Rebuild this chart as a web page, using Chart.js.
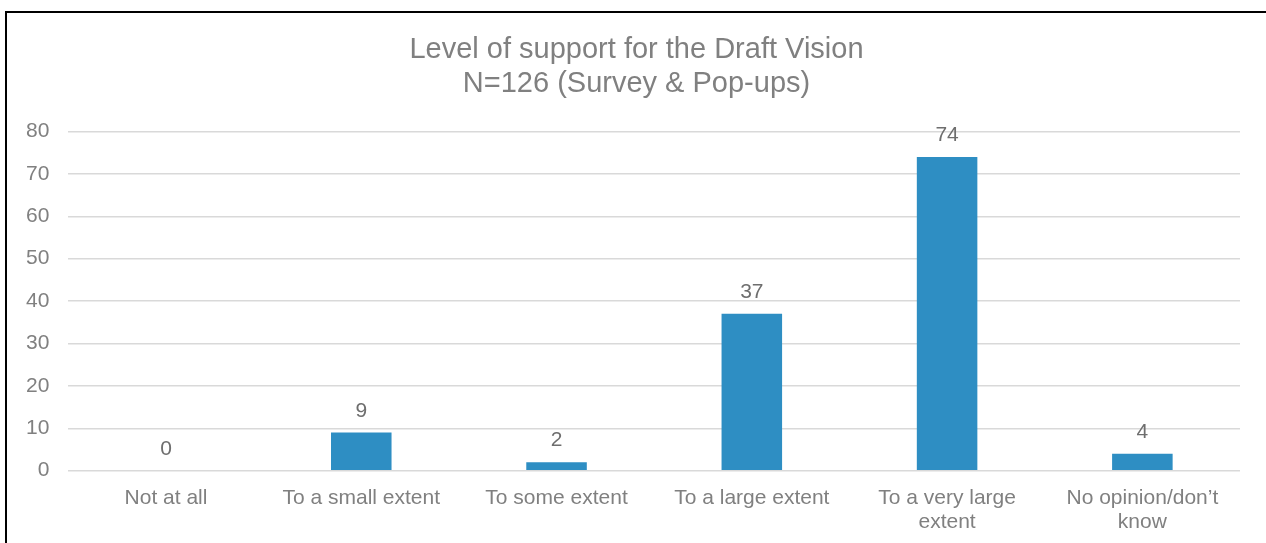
<!DOCTYPE html>
<html>
<head>
<meta charset="utf-8">
<script src="https://cdn.jsdelivr.net/npm/chart.js@4/dist/chart.umd.min.js"></script>
<style>
  html, body { margin: 0; padding: 0; background: #fff; overflow: hidden; }
  #frame {
    position: absolute;
    left: 5px;
    top: 11px;
    width: 1261px;
    height: 545px;
    border-top: 2px solid #000;
    border-left: 2px solid #000;
  }
  #wrap { position: relative; width: 1259px; height: 536px; }
</style>
</head>
<body>
<div id="frame"><div id="wrap"><canvas id="chart"></canvas></div></div>
<script>
const chartTitle = ['Level of support for the Draft Vision', 'N=126 (Survey & Pop-ups)'];
const categories = [
  'Not at all',
  'To a small extent',
  'To some extent',
  'To a large extent',
  ['To a very large', 'extent'],
  ['No opinion/don\u2019t', 'know']
];
const responses = [0, 9, 2, 37, 74, 4];
const yTicks = { min: 0, max: 80, step: 10 };

const grey = '#808080';
const font = 'Liberation Sans, Arial, sans-serif';

// draws the value above each bar, like the original labels
const valueLabels = {
  id: 'valueLabels',
  afterDatasetsDraw(chart) {
    const ctx = chart.ctx;
    const meta = chart.getDatasetMeta(0);
    ctx.save();
    ctx.font = '21px ' + font;
    ctx.fillStyle = '#6e6e6e';
    ctx.textAlign = 'center';
    ctx.textBaseline = 'alphabetic';
    meta.data.forEach((bar, i) => {
      ctx.fillText(String(responses[i]), bar.x, bar.y - 16);
    });
    ctx.restore();
  }
};

new Chart(document.getElementById('chart'), {
  type: 'bar',
  data: {
    labels: categories,
    datasets: [{
      data: responses,
      backgroundColor: '#2E8EC3',
      borderWidth: 0,
      categoryPercentage: 1,
      barPercentage: 0.31
    }]
  },
  options: {
    responsive: true,
    maintainAspectRatio: false,
    animation: false,
    layout: { padding: { top: 20, left: 0, right: 0, bottom: 0 } },
    plugins: {
      legend: { display: false },
      tooltip: { enabled: false },
      title: {
        display: true,
        text: chartTitle,
        color: grey,
        font: { family: font, size: 29, weight: 'normal', lineHeight: 1.18 },
        padding: { top: 0, bottom: 30 }
      }
    },
    scales: {
      x: {
        grid: { display: false, drawTicks: false },
        border: { display: false },
        ticks: {
          color: grey,
          font: { family: font, size: 21, lineHeight: 1.15 },
          padding: 15,
          maxRotation: 0,
          autoSkip: false
        }
      },
      y: {
        min: yTicks.min,
        max: yTicks.max,
        grid: { color: '#d9d9d9', lineWidth: 1.5, drawTicks: false },
        border: { display: false },
        ticks: {
          stepSize: yTicks.step,
          color: grey,
          font: { family: font, size: 21 },
          padding: 19
        }
      },
      // empty right-hand axis, only keeps the gap on the right so the title stays centred
      gap: {
        position: 'right',
        grid: { display: false },
        border: { display: false },
        ticks: { display: false },
        afterFit(scale) { scale.width = 26; }
      }
    }
  },
  plugins: [valueLabels]
});
</script>
</body>
</html>
